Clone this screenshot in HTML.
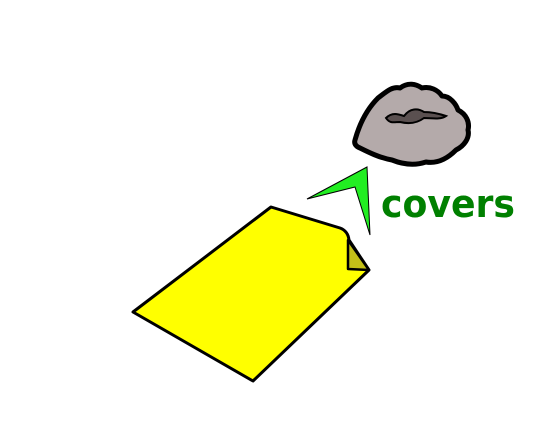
<!DOCTYPE html>
<html><head><meta charset="utf-8"><style>
html,body{margin:0;padding:0;background:#fff;width:550px;height:422px;overflow:hidden}
</style></head><body>
<svg width="550" height="422" viewBox="0 0 550 422">
<g>
<path d="M133,312 L271,207 L340,228 Q348,231 349,240 L369,270 L253,381 Z" fill="#ffff00" stroke="#000" stroke-width="3" stroke-linejoin="round"/>
<path d="M348,240 L348,269 L369,270 Z" fill="#c4c018" stroke="#000" stroke-width="2.5" stroke-linejoin="round"/>
</g>
<g>
<path d="M355,140 C360,122 368,108 378,98 C386,92 392,86 400,88 C408,82 416,84 422,88 C430,86 438,90 442,96 C450,96 456,104 458,110 C466,114 470,122 468,130 C470,138 464,146 456,150 C448,158 438,164 426,162 C414,166 402,164 392,160 C380,158 368,152 360,148 C355,146 354,143 355,140 Z" fill="#b4aaaa" stroke="#000" stroke-width="5" stroke-linejoin="round"/>
<path d="M386,118 C392,112 398,114 404,116 C410,108 418,108 424,112 C432,112 440,114 446,116 C440,120 432,118 424,118 C416,124 408,124 400,122 C394,122 390,124 386,118 Z" fill="#5a5050" stroke="#000" stroke-width="2"/>
</g>
<path d="M367,167 L307,199 L355,187 L370,235 Z" fill="#22ee22" stroke="#000" stroke-width="1"/>
<text x="381" y="217" textLength="134" lengthAdjust="spacingAndGlyphs" font-family="'DejaVu Sans','Liberation Sans',sans-serif" font-weight="bold" font-size="38" fill="#008000">covers</text>
</svg>
</body></html>
